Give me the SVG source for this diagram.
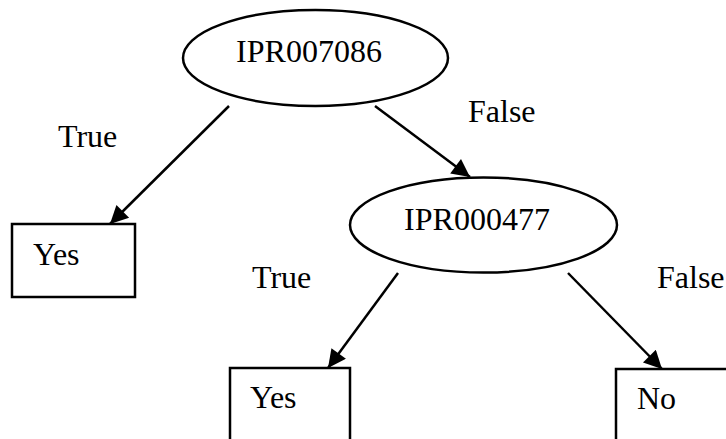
<svg xmlns="http://www.w3.org/2000/svg" width="726" height="439" viewBox="0 0 726 439">
<defs>
<marker id="ah" viewBox="0 0 10 10" refX="10" refY="5" markerUnits="userSpaceOnUse" markerWidth="24" markerHeight="18" orient="auto">
<path d="M0,0 L10,5 L0,10 Z" fill="#000"/>
</marker>
<style>
.shape{fill:#fff;stroke:#000;stroke-width:2.5}
.t{font-family:"Liberation Serif","Times New Roman",serif;font-size:32px;fill:#000}
.edge{stroke:#000;stroke-width:2.5;fill:none;marker-end:url(#ah)}
</style>
</defs>
<rect width="726" height="439" fill="#fff"/>
<g id="connectors">
<line class="edge" x1="229" y1="106" x2="110" y2="224"/>
<line class="edge" x1="375" y1="106" x2="470" y2="177"/>
<line class="edge" x1="398" y1="273" x2="328" y2="368"/>
<line class="edge" x1="568" y1="273" x2="662" y2="369"/>
</g>
<g id="labels">
<text class="t" x="58" y="147">True</text>
<text class="t" x="468" y="122">False</text>
<text class="t" x="252" y="288">True</text>
<text class="t" x="657" y="288">False</text>
</g>
<g id="n1">
<ellipse class="shape" cx="315.5" cy="58" rx="132.5" ry="48"/>
<text class="t" x="309" y="62" text-anchor="middle">IPR007086</text>
</g>
<g id="n2">
<rect class="shape" x="12" y="224" width="123" height="73"/>
<text class="t" x="33" y="265">Yes</text>
</g>
<g id="n3">
<ellipse class="shape" cx="483.5" cy="225" rx="133.5" ry="47.5"/>
<text class="t" x="477" y="230" text-anchor="middle">IPR000477</text>
</g>
<g id="n4">
<rect class="shape" x="230" y="368" width="120" height="90"/>
<text class="t" x="250" y="408">Yes</text>
</g>
<g id="n5">
<rect class="shape" x="616" y="369" width="130" height="90"/>
<text class="t" x="637" y="409">No</text>
</g>
</svg>
